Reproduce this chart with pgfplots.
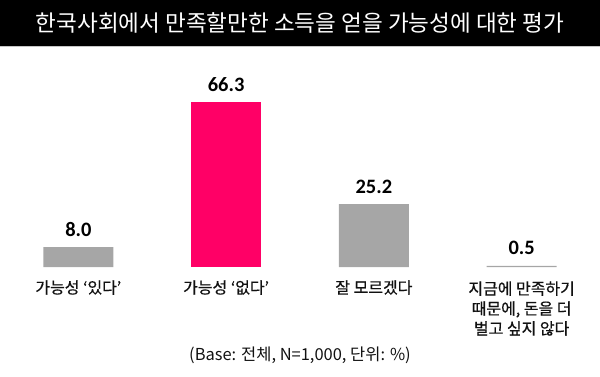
\documentclass[border=0pt]{standalone}
\usepackage{fontspec}
\setmainfont{Noto Sans CJK KR}
\newfontfamily\krm{Noto Sans CJK KR}[FakeBold=0.6]
\newfontfamily\numfont{Carlito}
\usepackage{pgfplots}
\pgfplotsset{compat=1.18}
\definecolor{pinkbar}{HTML}{FF0066}
\definecolor{graybar}{HTML}{A6A6A6}
\definecolor{txt}{HTML}{111111}
\begin{document}
\begin{tikzpicture}
\begin{axis}[scale only axis, width=600pt, height=377pt,
  xmin=-0.527, xmax=3.527, ymin=-43.8, ymax=107,
  hide axis, clip=false,
  every node near coord/.append style={anchor=center, yshift=17.5pt, font=\numfont\bfseries\fontsize{20.5}{24}\selectfont, text=black}]
\path (rel axis cs:0,0) rectangle (rel axis cs:1,1);
\fill[black] (axis cs:-0.527,88.6) rectangle (axis cs:3.527,107);
\draw[gray!45, line width=1pt] (axis cs:-0.527,88.2) -- (axis cs:3.527,88.2);
\node[white, font=\fontsize{22.6}{26}\selectfont] at (axis cs:1.5,97.6) {한국사회에서 만족할만한 소득을 얻을 가능성에 대한 평가};
\addplot[ybar, bar width=70pt, bar shift=0pt, fill=graybar, draw=none,
  nodes near coords, point meta=explicit symbolic] table[meta=l] {
x y l
0 8.0 8.0
2 25.2 25.2
3 0.5 0.5
};
\addplot[ybar, bar width=70pt, bar shift=0pt, fill=pinkbar, draw=none,
  nodes near coords, point meta=explicit symbolic] table[meta=l] {
x y l
1 66.3 66.3
};
\begin{scope}[every node/.style={text=txt, font=\krm\fontsize{16}{20}\selectfont, align=center, anchor=center}]
\node at (axis cs:0,-8.2) {가능성 ‘있다’};
\node at (axis cs:1,-8.2) {가능성 ‘없다’};
\node at (axis cs:2,-8.2) {잘 모르겠다};
\node[anchor=north] at (axis cs:3,-4.3) {지금에 만족하기\\때문에, 돈을 더\\벌고 싶지 않다};
\end{scope}
\node[text=txt, font=\fontsize{16.5}{18}\selectfont] at (axis cs:1.5,-35.4) {(Base: 전체, N=1,000, 단위: \%)};
\end{axis}
\end{tikzpicture}
\end{document}
